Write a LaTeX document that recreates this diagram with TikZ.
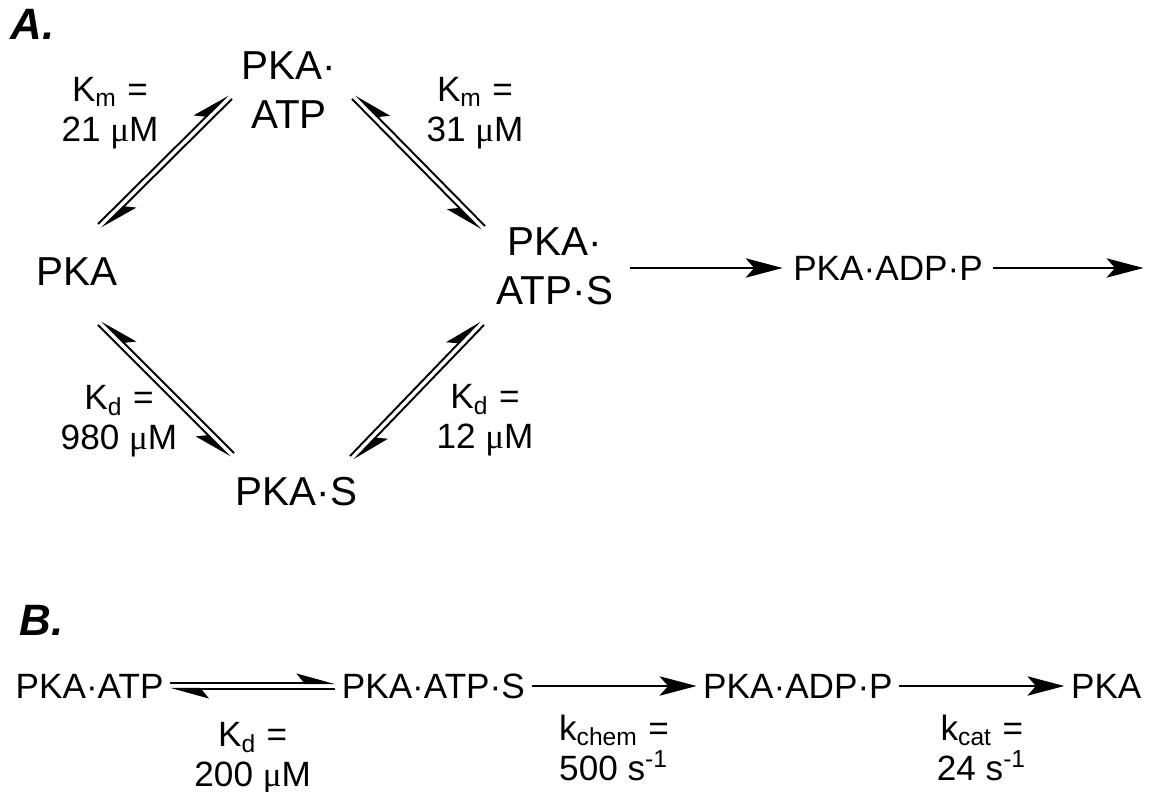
\documentclass[tikz,border=0pt]{standalone}
\usepackage{fontspec}
\setmainfont{Liberation Sans}
\newfontfamily\mufont{Liberation Serif}
\usetikzlibrary{arrows.meta, calc, positioning}

\newcommand{\micro}{{\mufont μ}}

\begin{document}
\begin{tikzpicture}[
        species/.style={font=\fontsize{11.5}{14}\selectfont, align=center, inner sep=0pt},
        row/.style={font=\fontsize{10}{12}\selectfont, inner ysep=0pt, inner xsep=0.06cm},
        const/.style={font=\fontsize{10}{11.4}\selectfont, align=center, inner sep=0pt},
        panel/.style={font=\fontsize{12.5}{14}\selectfont\bfseries\itshape, anchor=base west, inner sep=0pt},
        fwd/.style={line width=0.6pt, -{Stealth[length=10.5pt, width=5.5pt, inset=2.4pt]}},
        eq/.style={line width=0.55pt, -{Stealth[harpoon, length=10pt, width=5.5pt, inset=2.2pt]}},
        eqs/.style={line width=0.55pt, -{Stealth[harpoon, swap, length=10pt, width=5.5pt, inset=2.2pt]}}
    ]
    \useasboundingbox (0, 0) rectangle (11.5, -7.92);

    \node [panel] (A) at (0.10, -0.40) { A. };
    \node [panel] (B) at (0.19, -6.35) { B. };

    % binding cycle
    \node [species] (pka)     at (0.83, -2.72) { PKA };
    \node [species] (pkaatp)  at (2.89, -0.90) { PKA·\\ATP };
    \node [species] (pkaatps) at (5.55, -2.66) { PKA·\\ATP·S };
    \node [species] (pkas)    at (3.02, -4.92) { PKA·S };
    \node [row, inner xsep=0.1cm] (pkaadpp) at (8.88, -2.68) { PKA·ADP·P };
    \coordinate (done) at ($(pkaadpp.east) + (1.5, 0)$);

    \node [const] (kmA) at (1.10, -1.13) { K\textsubscript{m} =\\21 \micro M };
    \node [const] (kmB) at (4.75, -1.13) { K\textsubscript{m} =\\31 \micro M };
    \node [const] (kdA) at (1.19, -4.21) { K\textsubscript{d} =\\980 \micro M };
    \node [const] (kdB) at (4.85, -4.20) { K\textsubscript{d} =\\12 \micro M };

    \coordinate (e1a) at ($(pka) + (0.17, 0.46)$);
    \coordinate (e1b) at ($(pkaatp) + (-0.59, -0.07)$);
    \coordinate (e2a) at ($(pkaatp) + (0.65, -0.07)$);
    \coordinate (e2b) at ($(pkaatps) + (-0.72, 0.38)$);
    \coordinate (e3a) at ($(pka) + (0.17, -0.51)$);
    \coordinate (e3b) at ($(pkas) + (-0.70, 0.37)$);
    \coordinate (e4a) at ($(pkas) + (0.50, 0.34)$);
    \coordinate (e4b) at ($(pkaatps) + (-0.73, -0.57)$);

    \draw [eq]  ($(e1a)!0.8pt!90:(e1b)$) -- ($(e1b)!0.8pt!-90:(e1a)$);
    \draw [eq]  ($(e1b)!0.8pt!90:(e1a)$) -- ($(e1a)!0.8pt!-90:(e1b)$);
    \draw [eqs] ($(e2a)!0.8pt!-90:(e2b)$) -- ($(e2b)!0.8pt!90:(e2a)$);
    \draw [eqs] ($(e2b)!0.8pt!-90:(e2a)$) -- ($(e2a)!0.8pt!90:(e2b)$);
    \draw [eqs] ($(e3a)!0.8pt!-90:(e3b)$) -- ($(e3b)!0.8pt!90:(e3a)$);
    \draw [eqs] ($(e3b)!0.8pt!-90:(e3a)$) -- ($(e3a)!0.8pt!90:(e3b)$);
    \draw [eq]  ($(e4a)!0.8pt!90:(e4b)$) -- ($(e4b)!0.8pt!-90:(e4a)$);
    \draw [eq]  ($(e4b)!0.8pt!90:(e4a)$) -- ($(e4a)!0.8pt!-90:(e4b)$);

    \draw [fwd] ($(pkaatps.east |- pkaadpp.west) + (0.16, 0)$) -- (pkaadpp.west);
    \draw [fwd] (pkaadpp.east) -- (done);

    % linear scheme
    \node [row, anchor=west] (atp2) at (0.09, -6.86) { PKA·ATP };
    \node [row, right=1.65cm of atp2] (atps2) { PKA·ATP·S };
    \node [row, right=1.65cm of atps2] (adpp2) { PKA·ADP·P };
    \node [row, right=1.65cm of adpp2] (pka2) { PKA };

    \draw [eq] ($(atp2.east)!0.8pt!90:(atps2.west)$) -- ($(atps2.west)!0.8pt!-90:(atp2.east)$);
    \draw [eq] ($(atps2.west)!0.8pt!90:(atp2.east)$) -- ($(atp2.east)!0.8pt!-90:(atps2.west)$);
    \draw [fwd] (atps2) -- (adpp2);
    \draw [fwd] (adpp2) -- (pka2);

    \node [const, below=0.36cm] (kd2) at ($(atp2.east)!0.5!(atps2.west)$) { K\textsubscript{d} =\\200 \micro M };
    \node [const, below=0.28cm] (kchem) at ($(atps2.east)!0.5!(adpp2.west)$) { k\textsubscript{chem} =\\500 s\textsuperscript{-1} };
    \node [const, below=0.28cm] (kcat) at ($(adpp2.east)!0.5!(pka2.west)$) { k\textsubscript{cat} =\\24 s\textsuperscript{-1} };

\end{tikzpicture}
\end{document}
